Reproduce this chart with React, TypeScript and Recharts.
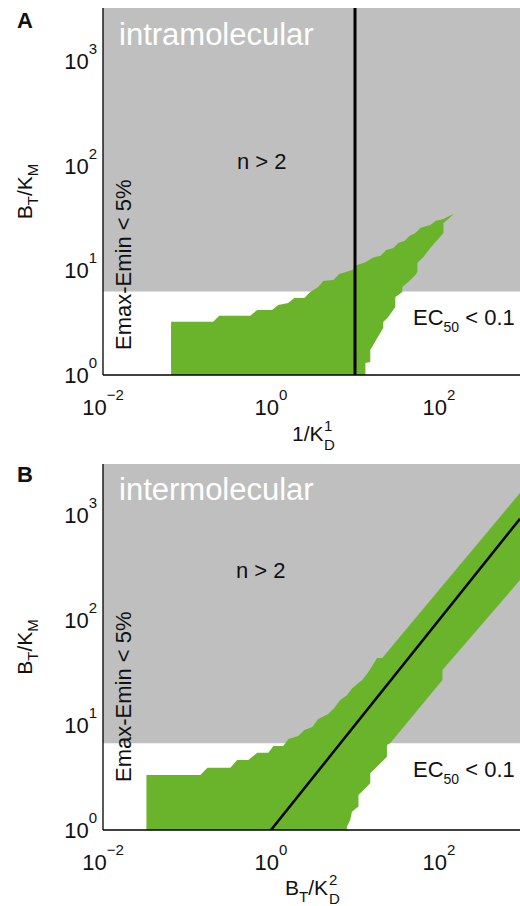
import React from "react";
import {
  ComposedChart,
  Area,
  Line,
  XAxis,
  YAxis,
  ReferenceArea,
  ReferenceLine,
} from "recharts";

const FONT = "'Liberation Sans', Arial, Helvetica, sans-serif";
const INK = "#111";
const GRAY = "#bfbfbf";
const GREEN = "#69b42b";

// shared axes (log-log)
const xDomain: [number, number] = [0.01, 921];
const xTicks = [0.01, 1, 100];
const yTicks = [1, 10, 100, 1000];
const yTopA = 3250;
const yTopB = 3060;

// gray region (Emax-Emin < 5%) starts at this B_T/K_M
const grayFromA = 6.3;
const grayFromB = 6.7;

// panel A: intramolecular, x = 1/K1_D
const regionAx = [
  0.0646, 0.205, 0.242, 0.565, 0.685, 1.03, 1.22, 1.6, 1.89, 2.49, 2.93, 3.65,
  4.19, 5.51, 6.5, 9.29, 10.6, 13.3, 13.3, 15.2, 15.2, 16.1, 16.5, 18.4, 20.0,
  21.7, 21.7, 23.6, 24.9, 28.6, 30.2, 30.2, 32.8, 36.6, 36.6, 38.7, 44.4, 45.6,
  52.3, 55.3, 55.3, 60.0, 65.2, 79.0, 90.6, 95.7, 113, 113, 129, 149,
];
const regionAlo = [
  1, 1, 1, 1, 1, 1, 1, 1, 1, 1, 1, 1, 1, 1, 1, 1, 1, 1, 1.3, 1.33, 1.73, 1.87,
  1.94, 2.26, 2.52, 2.82, 3.22, 3.44, 3.59, 4.2, 4.47, 5.58, 5.84, 6.23, 6.95,
  7.22, 7.95, 8.11, 9.06, 9.67, 11.8, 12.6, 13.5, 16.4, 18.7, 19.6, 22.9, 28.5,
  31.1, 34.7,
];
const regionAhi = [
  3.24, 3.24, 3.69, 3.69, 4.19, 4.19, 4.68, 4.89, 5.46, 5.46, 6.23, 6.95, 7.94,
  8.11, 9.26, 10.1, 11.3, 12.0, 12.0, 12.8, 12.8, 13.2, 13.3, 13.6, 13.8, 14.7,
  14.7, 15.7, 15.9, 16.4, 17.2, 17.2, 18.3, 18.9, 18.9, 19.2, 21.4, 21.6, 22.9,
  23.9, 23.9, 25.5, 26.1, 27.3, 29.8, 30.1, 31.1, 31.1, 32.9, 34.7,
];
const markerA = 10;

// panel B: intermolecular, x = B_T/K2_D
const regionBx = [
  0.0329, 0.144, 0.175, 0.328, 0.397, 0.537, 0.687, 0.929, 1.07, 1.4, 1.61,
  2.11, 2.49, 3.1, 3.65, 4.8, 5.66, 6.67, 8.01, 8.01, 8.77, 9.19, 11.0, 11.0,
  12.2, 14.4, 15.2, 15.2, 18.2, 18.4, 21.1, 24.0, 24.0, 26.2, 110, 110, 921,
];
const regionBlo = [
  1, 1, 1, 1, 1, 1, 1, 1, 1, 1, 1, 1, 1, 1, 1, 1, 1, 1, 1, 1.075, 1.245, 1.49,
  1.67, 2.15, 2.34, 2.67, 2.79, 3.47, 4.01, 4.03, 4.5, 4.99, 6.45, 6.69, 26.8,
  33.4, 240,
];
const regionBhi = [
  3.34, 3.34, 3.92, 3.92, 4.64, 4.64, 5.45, 5.45, 6.31, 6.31, 7.36, 7.86, 8.96,
  9.57, 11.4, 12.7, 14.5, 17.3, 19.2, 19.2, 21.2, 22.3, 25.1, 25.1, 26.8, 32.0,
  34.2, 34.2, 43.0, 43.5, 43.5, 49.1, 49.1, 53.6, 212, 212, 1620,
];
const diagBx = [1, 921];
const diagBy = [1, 921];

const regionA = regionAx.map((x, i) => ({ x, range: [regionAlo[i], regionAhi[i]] }));
const regionB = regionBx.map((x, i) => ({ x, range: [regionBlo[i], regionBhi[i]] }));
const diagB = diagBx.map((x, i) => ({ x, y: diagBy[i] }));

const expText = (v: number) => {
  const e = Math.round(Math.log10(v));
  return e < 0 ? "\u2212" + Math.abs(e) : String(e);
};

function XTick(props: any) {
  const { x, y, payload } = props;
  return (
    <text x={x} y={y + 40} textAnchor="middle" fontFamily={FONT} fontSize={22} fill={INK}>
      <tspan>10</tspan>
      <tspan fontSize={15} dy={-15}>{expText(payload.value)}</tspan>
    </text>
  );
}

function YTick(props: any) {
  const { x, y, payload } = props;
  return (
    <text x={x - 6} y={y + 8} textAnchor="end" fontFamily={FONT} fontSize={22} fill={INK}>
      <tspan>10</tspan>
      <tspan fontSize={15} dy={-15}>{expText(payload.value)}</tspan>
    </text>
  );
}

function Panel(props: {
  letter: string;
  title: string;
  top: number;
  axisH: number;
  yTop: number;
  grayFrom: number;
  data: { x: number; range: number[] }[];
  children?: React.ReactNode;
  nY: number;
  nX: number;
  emaxY: number;
  ecY: number;
  titleY: number;
  letterY: number;
  xLabel: React.ReactNode;
}) {
  const plotTop = props.top;
  const plotBottom = 453 - props.axisH;
  const midY = (plotTop + plotBottom) / 2;
  return (
    <div style={{ position: "relative", width: 520, height: 453 }}>
      <ComposedChart
        width={520}
        height={453}
        data={props.data}
        margin={{ top: props.top, right: 0, bottom: 0, left: 0 }}
      >
        <XAxis
          type="number"
          dataKey="x"
          scale="log"
          domain={xDomain}
          allowDataOverflow
          ticks={xTicks}
          tick={<XTick />}
          tickLine={false}
          tickSize={0}
          tickMargin={0}
          height={props.axisH}
          axisLine={{ stroke: "#000", strokeWidth: 1.3 }}
        />
        <YAxis
          type="number"
          scale="log"
          domain={[1, props.yTop]}
          allowDataOverflow
          ticks={yTicks}
          tick={<YTick />}
          tickLine={false}
          tickSize={0}
          tickMargin={0}
          width={103}
          axisLine={{ stroke: "#000", strokeWidth: 1.3 }}
        />
        <ReferenceArea
          x1={xDomain[0]}
          x2={xDomain[1]}
          y1={props.grayFrom}
          y2={props.yTop}
          fill={GRAY}
          fillOpacity={1}
          stroke="none"
        />
        <Area
          type="linear"
          dataKey="range"
          fill={GREEN}
          fillOpacity={1}
          stroke="none"
          isAnimationActive={false}
        />
        {props.children}
      </ComposedChart>
      <svg
        width={520}
        height={453}
        style={{ position: "absolute", left: 0, top: 0, pointerEvents: "none" }}
        fontFamily={FONT}
      >
        <text x={17} y={props.letterY} fontSize={22} fontWeight="bold" fill={INK}>
          {props.letter}
        </text>
        <text x={119} y={props.titleY} fontSize={31} fill="#fff">
          {props.title}
        </text>
        <text x={props.nX} y={props.nY} fontSize={22} fill={INK}>
          n &gt; 2
        </text>
        <text
          x={131}
          y={props.emaxY}
          fontSize={22}
          fill={INK}
          transform={`rotate(-90 131 ${props.emaxY})`}
        >
          Emax-Emin &lt; 5%
        </text>
        <text x={413} y={props.ecY} fontSize={22} fill={INK}>
          <tspan>EC</tspan>
          <tspan fontSize={14} dy={7}>50</tspan>
          <tspan dy={-7}> &lt; 0.1</tspan>
        </text>
        <text
          x={32}
          y={midY}
          fontSize={21}
          fill={INK}
          textAnchor="middle"
          transform={`rotate(-90 32 ${midY})`}
        >
          <tspan>B</tspan>
          <tspan fontSize={15} dy={6}>T</tspan>
          <tspan dy={-6}>/K</tspan>
          <tspan fontSize={15} dy={6}>M</tspan>
        </text>
        {props.xLabel}
      </svg>
    </div>
  );
}

export default function App() {
  return (
    <div style={{ position: "absolute", left: 0, top: 0, width: 520, height: 906, background: "#fff" }}>
      <Panel
        letter="A"
        title="intramolecular"
        top={8}
        axisH={78}
        yTop={yTopA}
        grayFrom={grayFromA}
        data={regionA}
        letterY={28}
        titleY={45}
        nX={237}
        nY={169}
        emaxY={350}
        ecY={325}
        xLabel={
          <g fontSize={21} fill={INK}>
            <text x={292} y={441}>1/K</text>
            <text x={324} y={431} fontSize={15}>1</text>
            <text x={324} y={450} fontSize={15}>D</text>
          </g>
        }
      >
        <ReferenceLine x={markerA} stroke="#000" strokeWidth={3} />
      </Panel>
      <Panel
        letter="B"
        title="intermolecular"
        top={11}
        axisH={76}
        yTop={yTopB}
        grayFrom={grayFromB}
        data={regionB}
        letterY={29}
        titleY={47}
        nX={236}
        nY={125}
        emaxY={329}
        ecY={324}
        xLabel={
          <g fontSize={21} fill={INK}>
            <text x={285} y={442}>
              <tspan>B</tspan>
              <tspan fontSize={15} dy={7}>T</tspan>
              <tspan dy={-7}>/K</tspan>
            </text>
            <text x={329} y={432} fontSize={15}>2</text>
            <text x={329} y={451} fontSize={15}>D</text>
          </g>
        }
      >
        <Line
          data={diagB}
          dataKey="y"
          type="linear"
          stroke="#000"
          strokeWidth={2.5}
          dot={false}
          isAnimationActive={false}
        />
      </Panel>
    </div>
  );
}
